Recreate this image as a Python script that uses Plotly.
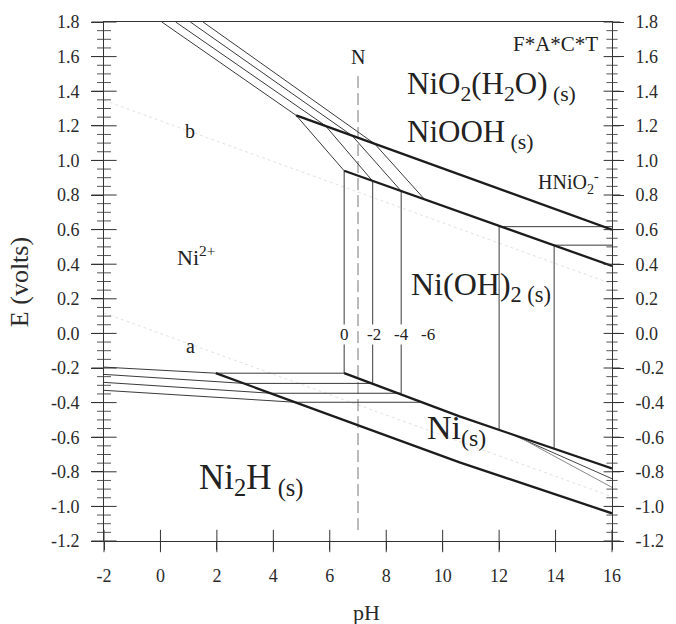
import plotly.graph_objects as go

# ---- Pourbaix (E-pH) diagram for Ni–H2O ----------------------------------
# axis ticks
x_ticks = [-2, 0, 2, 4, 6, 8, 10, 12, 14, 16]
x_tick_text = ["-2", "0", "2", "4", "6", "8", "10", "12", "14", "16"]
y_ticks = [-1.2, -1.0, -0.8, -0.6, -0.4, -0.2, 0.0, 0.2, 0.4, 0.6, 0.8, 1.0, 1.2, 1.4, 1.6, 1.8]
y_tick_text = ["-1.2", "-1.0", "-0.8", "-0.6", "-0.4", "-0.2", "0.0", "0.2", "0.4",
               "0.6", "0.8", "1.0", "1.2", "1.4", "1.6", "1.8"]
PH_RANGE = [-2, 16]
E_RANGE = [-1.2, 1.8]

# heavy boundaries (unit activity)
ni2h_ni_ph = [1.96, 10.6, 16.0]
ni2h_ni_e = [-0.23, -0.745, -1.04]
ni_nioh2_ph = [6.51, 10.6, 12.4, 16.0]
ni_nioh2_e = [-0.23, -0.48, -0.58, -0.78]
nioh2_niooh_ph = [6.51, 16.0]
nioh2_niooh_e = [0.94, 0.39]
niooh_nio2_ph = [4.81, 16.0]
niooh_nio2_e = [1.26, 0.60]

# Ni2+ / Ni (and Ni2H) boundaries for log[Ni2+] = 0, -2, -4, -6
ni2_ni_ph = [[-2.0, 1.96, 6.51], [-2.0, 2.95, 7.52], [-2.0, 3.91, 8.53], [-2.0, 4.78, 9.22]]
ni2_ni_e = [[-0.195, -0.23, -0.23], [-0.237, -0.289, -0.289],
            [-0.283, -0.346, -0.346], [-0.329, -0.398, -0.398]]

# Ni2+ / NiO2 and Ni2+ / NiOOH boundaries for the same activities
ni2_ox_ph = [[0.05, 4.81, 6.51], [0.54, 5.85, 7.52], [1.06, 6.79, 8.53], [1.51, 7.59, 9.33]]
ni2_ox_e = [[1.80, 1.26, 0.94], [1.80, 1.20, 0.88], [1.80, 1.143, 0.823], [1.80, 1.096, 0.78]]

# Ni2+ / Ni(OH)2 verticals
ni2_hyd_ph = [6.51, 7.52, 8.53]
ni2_hyd_lo = [-0.23, -0.289, -0.346]
ni2_hyd_hi = [0.94, 0.88, 0.823]

# HNiO2- region boundaries
hnio2_ph = [12.0, 13.95]
hnio2_lo = [-0.558, -0.665]
hnio2_hi = [0.617, 0.51]

# Ni / HNiO2- lines in strong alkali
alk_ph = [[12.4, 16.0], [12.6, 16.0]]
alk_e = [[-0.58, -0.84], [-0.59, -0.89]]

# water stability lines a and b
water_ph = [-2.0, 16.0]
water_a = [0.118, -0.944]
water_b = [1.347, 0.286]

# neutral line
neutral_ph = 7.0
neutral_e = [-1.137, 1.50]

SERIF = "Liberation Serif"
INK = "#1c1c1c"
THIN = "#3a3a3a"
AX = "#333333"
MINOR = "#555555"

fig = go.Figure()


def add_line(xs, ys, width=1.0, color=THIN, dash="solid"):
    fig.add_trace(go.Scatter(x=xs, y=ys, mode="lines",
                             line=dict(color=color, width=width, dash=dash),
                             hoverinfo="skip", showlegend=False))


# water lines (very faint)
add_line(water_ph, water_a, 1.0, "#e2e2e2", "dot")
add_line(water_ph, water_b, 1.0, "#e2e2e2", "dot")

# neutral pH
add_line([neutral_ph, neutral_ph], neutral_e, 1.0, "#777777", "12px,5px")

for xs, ys in zip(ni2_ni_ph, ni2_ni_e):
    add_line(xs, ys)
for xs, ys in zip(ni2_ox_ph, ni2_ox_e):
    add_line(xs, ys)
for x, lo, hi in zip(ni2_hyd_ph, ni2_hyd_lo, ni2_hyd_hi):
    add_line([x, x], [lo, hi])
for x, lo, hi in zip(hnio2_ph, hnio2_lo, hnio2_hi):
    add_line([x, x], [lo, hi])
    add_line([x, 16.0], [hi, hi])
add_line(alk_ph[0], alk_e[0], 1.0, "#444444")
add_line(alk_ph[1], alk_e[1], 1.0, "#8a8a8a")

for xs, ys in [(ni2h_ni_ph, ni2h_ni_e), (ni_nioh2_ph, ni_nioh2_e),
               (nioh2_niooh_ph, nioh2_niooh_e), (niooh_nio2_ph, niooh_nio2_e)]:
    add_line(xs, ys, 2.3, INK)


# crossing tick marks on the frame (short line markers centred on the axis lines)
minor_e = [round(v + k * 0.05, 2) for v in y_ticks[:-1] for k in (1, 2, 3)]


def frame_ticks(xs, ys, symbol, size, color):
    fig.add_trace(go.Scatter(x=xs, y=ys, mode="markers", cliponaxis=False,
                             marker=dict(symbol=symbol, size=size, color=color,
                                         line=dict(width=1, color=color)),
                             hoverinfo="skip", showlegend=False))


frame_ticks([PH_RANGE[0]] * len(y_ticks), y_ticks, "line-ew", 18, AX)
frame_ticks([PH_RANGE[1]] * len(y_ticks), y_ticks, "line-ew", 12, AX)
frame_ticks([PH_RANGE[0]] * len(minor_e), minor_e, "line-ew", 10, MINOR)
frame_ticks([PH_RANGE[1]] * len(minor_e), minor_e, "line-ew", 8, MINOR)
frame_ticks(x_ticks, [E_RANGE[0]] * len(x_ticks), "line-ns", 16, AX)

# right-hand axis labels live on an overlaid axis
fig.add_trace(go.Scatter(x=PH_RANGE, y=E_RANGE, xaxis="x", yaxis="y2",
                         mode="markers", marker=dict(opacity=0),
                         hoverinfo="skip", showlegend=False))

tick_font = dict(family=SERIF, size=18, color="#2a2a2a")

fig.update_layout(
    width=676, height=624,
    margin=dict(l=104, r=54, t=21, b=83),
    paper_bgcolor="white", plot_bgcolor="white",
    xaxis=dict(range=PH_RANGE, tickmode="array", tickvals=x_ticks, ticktext=x_tick_text,
               ticks="outside", ticklen=8, tickcolor=AX, tickwidth=1,
               showline=True, linecolor=AX, linewidth=1, mirror=True,
               showgrid=False, zeroline=False, tickfont=tick_font, ticklabelstandoff=10),
    yaxis=dict(range=E_RANGE, tickmode="array", tickvals=y_ticks, ticktext=y_tick_text,
               ticks="outside", ticklen=12, tickcolor=AX, tickwidth=1,
               showline=True, linecolor=AX, linewidth=1,
               showgrid=False, zeroline=False, tickfont=tick_font, ticklabelstandoff=8),
    yaxis2=dict(range=E_RANGE, overlaying="y", anchor="x", side="right",
                tickmode="array", tickvals=y_ticks, ticktext=y_tick_text,
                ticks="outside", ticklen=11, tickcolor=AX,
                showline=True, linecolor=AX, linewidth=1,
                showgrid=False, zeroline=False, tickfont=tick_font, ticklabelstandoff=8),
)


def label(text, x, y, size, xanchor="left", yanchor="middle", bg=None, color="#222"):
    fig.add_annotation(text=text, x=x, y=y, xref="x", yref="y", showarrow=False,
                       xanchor=xanchor, yanchor=yanchor,
                       font=dict(family=SERIF, size=size, color=color),
                       bgcolor=bg, borderpad=0)


label("F*A*C*T", 15.55, 1.673, 21, xanchor="right")
label("N", 7.0, 1.60, 20, xanchor="center", bg="white")
label("NiO<sub>2</sub>(H<sub>2</sub>O)<sub> (s)</sub>", 8.70, 1.43, 31)
label("NiOOH<sub> (s)</sub>", 8.70, 1.155, 31)
label("HNiO<sub>2</sub><sup>-</sup>", 13.35, 0.87, 20)
label("Ni(OH)<sub>2 (s)</sub>", 8.85, 0.27, 32)
label("Ni<sub>(s)</sub>", 9.40, -0.56, 34)
label("Ni<sub>2</sub>H<sub> (s)</sub>", 1.34, -0.85, 35)
label("Ni<sup>2+</sup>", 0.54, 0.45, 22)
label("b", 1.06, 1.17, 20, xanchor="center")
label("a", 1.06, -0.07, 20, xanchor="center")
for txt, x in zip(["0", "-2", "-4", "-6"], [6.51, 7.56, 8.53, 9.47]):
    label(txt, x, -0.005, 17, xanchor="center", bg="white")

# axis titles
fig.add_annotation(text="E (volts)", xref="paper", yref="paper",
                   x=(18 - 104) / 518, y=(541 - 282) / 520,
                   xanchor="center", yanchor="middle", showarrow=False, textangle=-90,
                   font=dict(family=SERIF, size=26, color="#2a2a2a"))
fig.add_annotation(text="pH", xref="paper", yref="paper",
                   x=(372 - 104) / 518, y=(541 - 613) / 520,
                   xanchor="center", yanchor="middle", showarrow=False,
                   font=dict(family=SERIF, size=22, color="#2a2a2a"))

fig.write_html("out.html")
